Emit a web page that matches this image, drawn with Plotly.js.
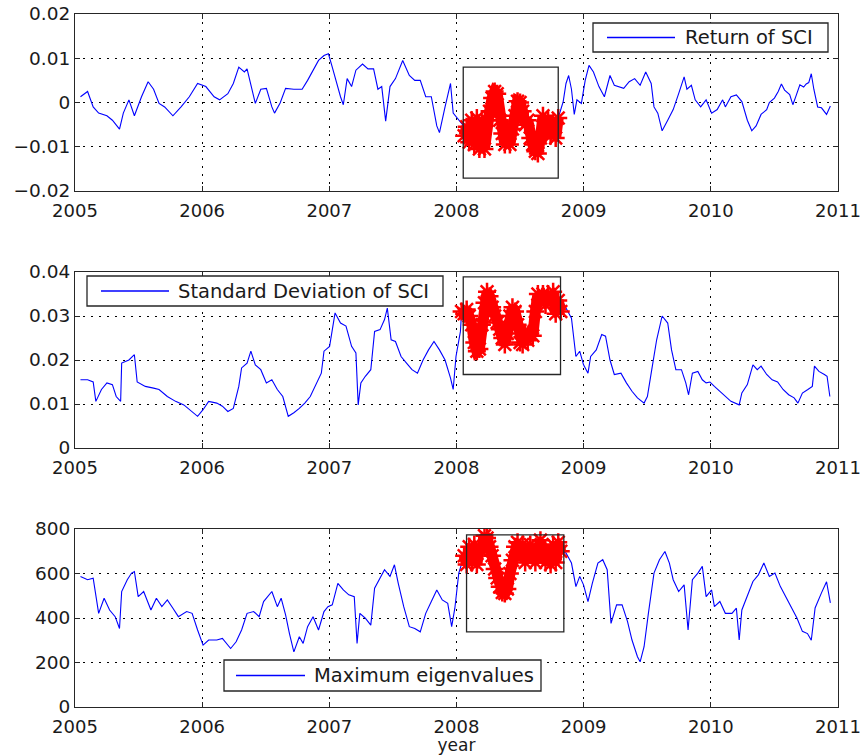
<!DOCTYPE html>
<html><head><meta charset="utf-8">
<script src="https://cdn.plot.ly/plotly-3.0.1.min.js"></script>
<style>html,body{margin:0;padding:0;background:#fff}#chart{width:862px;height:755px}</style>
</head><body><div id="chart"></div>
<script>
// ---------- data ----------
const yearTicks  = [2005, 2006, 2007, 2008, 2009, 2010, 2011];
const yearLabels = ['2005', '2006', '2007', '2008', '2009', '2010', '2011'];

const retTicks  = [-0.02, -0.01, 0, 0.01, 0.02];
const retLabels = ['\u22120.02', '\u22120.01', '0', '0.01', '0.02'];
const sdTicks   = [0, 0.01, 0.02, 0.03, 0.04];
const sdLabels  = ['0', '0.01', '0.02', '0.03', '0.04'];
const eigTicks  = [0, 200, 400, 600, 800];
const eigLabels = ['0', '200', '400', '600', '800'];

// Return of SCI
const retX = [2005.043,2005.099,2005.143,2005.186,2005.251,2005.294,2005.350,2005.380,2005.424,2005.467,2005.523,2005.575,2005.618,2005.661,2005.705,2005.770,2005.834,2005.899,2005.964,2006.029,2006.094,2006.137,2006.202,2006.245,2006.288,2006.332,2006.353,2006.388,2006.418,2006.461,2006.505,2006.548,2006.569,2006.613,2006.656,2006.721,2006.786,2006.829,2006.872,2006.915,2006.958,2006.993,2007.023,2007.054,2007.088,2007.110,2007.140,2007.175,2007.209,2007.261,2007.304,2007.348,2007.382,2007.412,2007.443,2007.477,2007.520,2007.577,2007.629,2007.672,2007.715,2007.758,2007.802,2007.845,2007.866,2007.910,2007.931,2007.953,2007.974,2008.018,2008.048,
  2008.06,2008.08,2008.10,2008.12,2008.14,2008.16,2008.18,2008.20,2008.22,2008.24,2008.26,2008.28,2008.30,2008.32,2008.34,2008.36,2008.38,2008.40,2008.42,2008.44,2008.46,2008.48,2008.50,2008.52,2008.54,2008.56,2008.58,2008.60,2008.62,2008.64,2008.66,2008.68,2008.70,2008.72,2008.74,2008.76,2008.78,2008.80,
  2008.839,2008.861,2008.882,2008.904,2008.926,2008.947,2008.982,2009.012,2009.042,2009.077,2009.120,2009.163,2009.207,2009.241,2009.272,2009.315,2009.358,2009.401,2009.444,2009.488,2009.531,2009.553,2009.583,2009.617,2009.661,2009.704,2009.747,2009.790,2009.812,2009.847,2009.877,2009.920,2009.963,2010.006,2010.050,2010.093,2010.114,2010.158,2010.201,2010.244,2010.287,2010.322,2010.356,2010.395,2010.439,2010.46,2010.50,2010.53,2010.555,2010.58,2010.62,2010.645,2010.67,2010.70,2010.73,2010.75,2010.77,2010.79,2010.81,2010.84,2010.87,2010.91,2010.94];
const retY = [0.0013,0.0025,-0.001,-0.0024,-0.003,-0.004,-0.006,-0.0024,0.0006,-0.003,0.0013,0.0047,0.003,-0.0002,-0.001,-0.003,-0.001,0.0013,0.0043,0.0036,0.0013,0.0006,0.002,0.0043,0.008,0.0069,0.0076,0.0036,-0.0002,0.003,0.0032,-0.001,-0.0024,-0.0001,0.0032,0.003,0.003,0.005,0.0073,0.0095,0.0106,0.011,0.008,0.0047,0.0013,-0.0005,0.0054,0.0036,0.0073,0.0087,0.0076,0.0076,0.003,0.0036,-0.0042,0.0036,0.0054,0.0095,0.0061,0.005,0.005,0.0013,0.0013,-0.0053,-0.0068,-0.001,0.0013,0.0043,-0.0024,-0.004,-0.005,
  -0.0075,-0.0055,-0.009,-0.004,-0.0095,-0.0035,-0.0105,-0.005,-0.0105,-0.004,-0.002,0.001,0.0025,0.002,-0.004,-0.007,-0.0095,-0.006,-0.0095,-0.006,-0.003,0.0003,0.0,-0.002,-0.005,-0.004,-0.008,-0.0095,-0.011,-0.0115,-0.008,-0.003,-0.007,-0.004,-0.0075,-0.005,-0.008,-0.0035,
  0.0002,0.0043,0.0061,0.003,-0.0027,0.0006,-0.0002,0.005,0.0084,0.0069,0.0036,0.0013,0.0061,0.0039,0.0036,0.0032,0.0047,0.0054,0.0039,0.0069,0.0043,-0.001,-0.0024,-0.0064,-0.004,-0.0016,0.002,0.0058,0.003,0.0039,0.0006,-0.001,0.0006,-0.0024,-0.0016,0.0006,-0.001,0.0013,0.0017,0.0002,-0.004,-0.0064,-0.0053,-0.0027,-0.0016,0.0,0.001,0.0025,0.0042,0.0028,0.0018,-0.0005,0.0015,0.004,0.0035,0.0042,0.0045,0.0065,0.003,-0.001,-0.0012,-0.0027,-0.0008];

// Standard Deviation of SCI
const sdX = [2005.043,2005.099,2005.143,2005.164,2005.208,2005.251,2005.294,2005.324,2005.359,2005.367,2005.424,2005.467,2005.489,2005.553,2005.618,2005.661,2005.726,2005.791,2005.856,2005.921,2005.964,2006.007,2006.051,2006.115,2006.159,2006.202,2006.245,2006.288,2006.310,2006.353,2006.383,2006.418,2006.461,2006.505,2006.548,2006.591,2006.634,2006.677,2006.721,2006.764,2006.807,2006.850,2006.894,2006.937,2006.958,2007.002,2007.045,2007.088,2007.131,2007.175,2007.209,2007.227,2007.248,2007.283,2007.326,2007.356,2007.399,2007.434,2007.456,2007.486,2007.520,2007.564,2007.607,2007.650,2007.693,2007.737,2007.780,2007.823,2007.866,2007.910,2007.953,2007.974,2007.996,2008.031,
  2008.04,2008.06,2008.08,2008.10,2008.12,2008.14,2008.16,2008.18,2008.20,2008.22,2008.24,2008.26,2008.28,2008.30,2008.32,2008.34,2008.36,2008.38,2008.40,2008.42,2008.44,2008.46,2008.48,2008.50,2008.52,2008.54,2008.56,2008.58,2008.60,2008.62,2008.64,2008.66,2008.68,2008.70,2008.72,2008.74,2008.76,2008.78,2008.80,2008.82,
  2008.826,2008.861,2008.904,2008.939,2008.969,2008.999,2009.034,2009.055,2009.099,2009.142,2009.172,2009.207,2009.241,2009.293,2009.336,2009.380,2009.423,2009.475,2009.501,2009.531,2009.574,2009.617,2009.661,2009.691,2009.725,2009.769,2009.803,2009.825,2009.855,2009.898,2009.933,2009.963,2009.993,2010.028,2010.071,2010.114,2010.158,2010.223,2010.244,2010.287,2010.331,2010.365,2010.395,2010.439,2010.482,2010.525,2010.568,2010.612,2010.655,2010.685,2010.720,2010.763,2010.798,2010.815,2010.850,2010.893,2010.914,2010.936];
const sdY = [0.0155,0.0155,0.015,0.0106,0.0133,0.0148,0.0144,0.0117,0.0106,0.0193,0.0200,0.0212,0.015,0.014,0.0136,0.0133,0.0117,0.0106,0.0098,0.0083,0.0072,0.0087,0.0106,0.0102,0.0095,0.0083,0.009,0.014,0.0182,0.0193,0.022,0.0189,0.0178,0.0148,0.0155,0.0133,0.0117,0.0072,0.008,0.009,0.0102,0.0117,0.0144,0.017,0.022,0.0231,0.0307,0.0284,0.0277,0.0231,0.0216,0.0098,0.0148,0.0163,0.0178,0.0265,0.0269,0.0292,0.0318,0.0246,0.0242,0.0208,0.0193,0.0178,0.017,0.020,0.0223,0.0242,0.0223,0.020,0.0159,0.0133,0.0208,0.0265,
  0.031,0.0305,0.0315,0.030,0.028,0.024,0.022,0.0225,0.028,0.033,0.0355,0.0345,0.032,0.030,0.0285,0.027,0.025,0.0235,0.026,0.030,0.032,0.031,0.028,0.024,0.0235,0.026,0.0245,0.026,0.0255,0.031,0.035,0.0335,0.035,0.0325,0.035,0.033,0.0355,0.0305,0.0335,0.031,
  0.0337,0.0318,0.0295,0.0208,0.022,0.0189,0.017,0.0208,0.0223,0.0258,0.0254,0.020,0.0167,0.017,0.0148,0.0129,0.0114,0.0102,0.0117,0.017,0.0246,0.030,0.0284,0.0223,0.0178,0.0178,0.0148,0.0121,0.017,0.0174,0.0155,0.0148,0.015,0.014,0.0129,0.0117,0.0106,0.0098,0.0125,0.0144,0.0189,0.0178,0.0186,0.0167,0.0155,0.015,0.0133,0.0121,0.0114,0.0102,0.0125,0.0133,0.014,0.0186,0.0174,0.0167,0.0163,0.0117];

// Maximum eigenvalues
const eigX = [2005.043,2005.099,2005.143,2005.164,2005.186,2005.229,2005.272,2005.316,2005.350,2005.367,2005.411,2005.445,2005.467,2005.497,2005.540,2005.597,2005.640,2005.683,2005.726,2005.770,2005.813,2005.878,2005.921,2005.964,2006.007,2006.051,2006.115,2006.159,2006.224,2006.267,2006.310,2006.353,2006.405,2006.448,2006.483,2006.548,2006.591,2006.621,2006.656,2006.686,2006.721,2006.764,2006.794,2006.829,2006.872,2006.915,2006.958,2006.989,2007.023,2007.067,2007.110,2007.153,2007.196,2007.218,2007.240,2007.283,2007.326,2007.356,2007.391,2007.434,2007.477,2007.512,2007.542,2007.585,2007.629,2007.672,2007.715,2007.758,2007.802,2007.845,2007.888,2007.931,2007.962,2007.987,2008.018,
  2008.06,2008.08,2008.10,2008.12,2008.14,2008.16,2008.18,2008.20,2008.22,2008.24,2008.26,2008.28,2008.30,2008.32,2008.34,2008.36,2008.38,2008.40,2008.42,2008.44,2008.46,2008.48,2008.50,2008.52,2008.54,2008.56,2008.58,2008.60,2008.62,2008.64,2008.66,2008.68,2008.70,2008.72,2008.74,2008.76,2008.78,2008.80,2008.82,
  2008.861,2008.904,2008.939,2008.969,2008.999,2009.034,2009.068,2009.112,2009.150,2009.185,2009.215,2009.259,2009.302,2009.345,2009.380,2009.423,2009.444,2009.475,2009.509,2009.553,2009.596,2009.639,2009.674,2009.704,2009.747,2009.790,2009.821,2009.855,2009.898,2009.933,2009.963,2010.006,2010.028,2010.071,2010.114,2010.166,2010.201,2010.223,2010.244,2010.287,2010.331,2010.374,2010.417,2010.46,2010.504,2010.547,2010.59,2010.633,2010.677,2010.72,2010.76,2010.79,2010.82,2010.87,2010.91,2010.94];
const eigY = [587,572,579,496,421,489,436,406,353,519,572,602,609,496,519,436,489,451,481,444,406,429,421,346,278,301,301,308,263,293,346,421,429,406,474,519,451,489,414,331,248,316,286,361,406,346,429,451,459,556,526,504,496,286,421,399,368,534,572,617,587,639,556,451,361,353,338,421,474,526,481,466,361,444,602,
  680,640,720,650,730,640,720,700,770,760,720,680,620,580,540,515,510,530,600,660,720,740,700,730,650,700,730,680,650,700,750,700,650,690,640,730,650,740,700,
  692,647,541,587,549,474,556,647,662,617,376,459,459,384,301,226,203,271,421,602,662,699,647,572,519,549,346,572,602,632,496,526,451,474,421,421,444,301,436,496,564,594,647,587,602,541,496,451,400,340,330,300,445,513,563,468];

// highlighted (red) period per panel, and the boxes drawn round it
const redStart = [2008.055, 2008.035, 2008.055];
const redEnd   = [2008.805, 2008.825, 2008.825];
const boxX0 = [2008.053, 2008.053, 2008.079];
const boxX1 = [2008.800, 2008.818, 2008.844];
const boxY0 = [-0.0171, 0.0167, 338];
const boxY1 = [0.0080, 0.0389, 774];

const legendNames = ['Return of SCI', 'Standard Deviation of SCI', 'Maximum eigenvalues'];

// ---------- styling ----------
const BLUE = '#0000ff', RED = '#ff0000', INK = '#262626', TXT = '#1a1a1a';
const FONT = 'DejaVu Sans, Liberation Sans, Arial, sans-serif';
const W = 862, H = 755, L = 75, R = 838, T = 14, B = 707;
const PX = x => (x - L) / (R - L);
const PY = y => (B - y) / (B - T);

function sub(arrX, arrY, a, b) {
  const xs = [], ys = [];
  for (let i = 0; i < arrX.length; i++) if (arrX[i] >= a && arrX[i] <= b) { xs.push(arrX[i]); ys.push(arrY[i]); }
  return [xs, ys];
}

const series = [[retX, retY], [sdX, sdY], [eigX, eigY]];
const axN = ['', '2', '3'];
const traces = [];
series.forEach((s, i) => {
  traces.push({x: s[0], y: s[1], xaxis: 'x' + axN[i], yaxis: 'y' + axN[i], type: 'scatter', mode: 'lines',
    line: {color: BLUE, width: 1.1}, name: legendNames[i], showlegend: false, hoverinfo: 'skip'});
  const r = sub(s[0], s[1], redStart[i], redEnd[i]);
  traces.push({x: r[0], y: r[1], xaxis: 'x' + axN[i], yaxis: 'y' + axN[i], type: 'scatter', mode: 'lines+markers',
    line: {color: RED, width: 11}, marker: {symbol: 'asterisk', size: 15, color: RED, line: {color: RED, width: 2.5}},
    showlegend: false, hoverinfo: 'skip'});
});

function xax(anchor, withTitle) {
  const a = {anchor: anchor, domain: [0, 1], range: [2005, 2011], tickmode: 'array', tickvals: yearTicks, ticktext: yearLabels,
    ticks: 'inside', ticklen: 5, tickcolor: INK, showline: true, linecolor: INK, linewidth: 1, mirror: 'ticks',
    showgrid: true, gridcolor: '#000', griddash: '2px,6px', gridwidth: 1, zeroline: false, automargin: false,
    ticklabelstandoff: 3, tickfont: {family: FONT, size: 18, color: TXT}};
  if (withTitle) a.title = {text: 'year', font: {family: FONT, size: 17, color: TXT}, standoff: 30};
  return a;
}
function yax(anchor, domain, range, tv, tt) {
  return {anchor: anchor, domain: domain, range: range, tickmode: 'array', tickvals: tv, ticktext: tt,
    ticks: 'inside', ticklen: 5, tickcolor: INK, showline: true, linecolor: INK, linewidth: 1, mirror: 'ticks',
    showgrid: true, gridcolor: '#000', griddash: '2px,6px', gridwidth: 1, zeroline: false, automargin: false,
    tickfont: {family: FONT, size: 18.5, color: TXT}};
}

const shapes = [], annotations = [];
// boxes round the highlighted period
for (let i = 0; i < 3; i++) {
  shapes.push({type: 'rect', xref: 'x' + axN[i], yref: 'y' + axN[i], x0: boxX0[i], x1: boxX1[i], y0: boxY0[i], y1: boxY1[i],
    line: {color: INK, width: 1.3}, fillcolor: 'rgba(0,0,0,0)', layer: 'above'});
}
// legends (box, sample line, label) in pixel positions of the figure
const legBoxes = [[593, 828, 23, 52, 607, 675, 683], [87, 443, 276, 306, 101, 169, 176], [224, 541, 660, 691, 236, 305, 312]];
legBoxes.forEach((b, i) => {
  const yc = (b[2] + b[3]) / 2;
  shapes.push({type: 'rect', xref: 'paper', yref: 'paper', x0: PX(b[0]), x1: PX(b[1]), y0: PY(b[3]), y1: PY(b[2]),
    line: {color: INK, width: 1.3}, fillcolor: '#ffffff', layer: 'above'});
  shapes.push({type: 'line', xref: 'paper', yref: 'paper', x0: PX(b[4]), x1: PX(b[5]), y0: PY(yc), y1: PY(yc),
    line: {color: BLUE, width: 1.3}, layer: 'above'});
  annotations.push({xref: 'paper', yref: 'paper', x: PX(b[6]), y: PY(yc), xanchor: 'left', yanchor: 'middle',
    text: legendNames[i], showarrow: false, font: {family: FONT, size: 19.5, color: TXT}});
});

const layout = {
  width: W, height: H, margin: {l: L, r: W - R, t: T, b: H - B},
  paper_bgcolor: '#ffffff', plot_bgcolor: '#ffffff', showlegend: false,
  xaxis: xax('y', false), yaxis: yax('x', [PY(191), 1], [-0.02, 0.02], retTicks, retLabels),
  xaxis2: xax('y2', false), yaxis2: yax('x2', [PY(448), PY(272)], [0, 0.04], sdTicks, sdLabels),
  xaxis3: xax('y3', true), yaxis3: yax('x3', [0, PY(529)], [0, 800], eigTicks, eigLabels),
  shapes: shapes, annotations: annotations
};

Plotly.newPlot('chart', traces, layout, {displayModeBar: false, staticPlot: true});
</script>
</body></html>
